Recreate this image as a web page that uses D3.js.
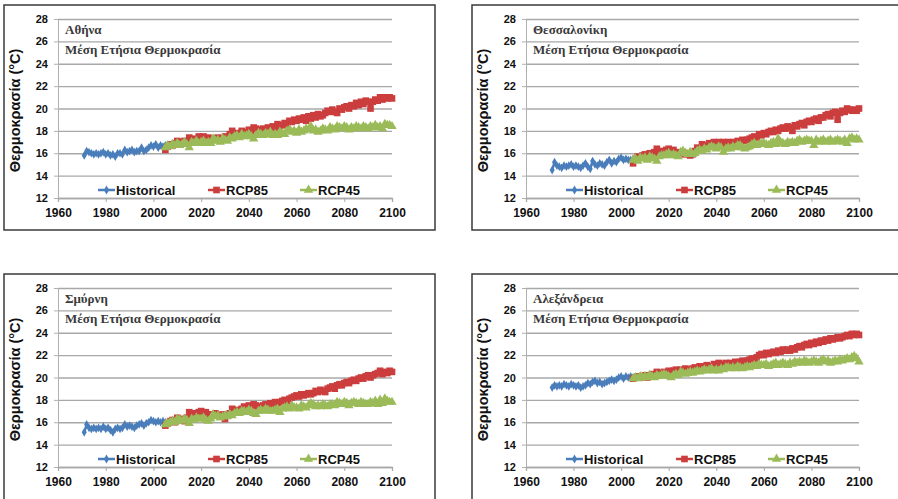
<!DOCTYPE html>
<html>
<head>
<meta charset="utf-8">
<script src="https://cdn.jsdelivr.net/npm/d3@7/dist/d3.min.js"></script>
<style>
  html, body { margin: 0; padding: 0; background: #fff; }
  svg { display: block; }
</style>
</head>
<body>
<svg id="chart" width="898" height="499"></svg>
<script>
// ---------------- DATA ----------------
const cities = ["Αθήνα", "Θεσσαλονίκη", "Σμύρνη", "Αλεξάνδρεια"];
const subtitle = "Μέση Ετήσια Θερμοκρασία";
const yTitle = "Θερμοκρασία (°C)";
const seriesNames = ["Historical", "RCP85", "RCP45"];
const yTicks = [12, 14, 16, 18, 20, 22, 24, 26, 28];
const xTicks = [1960, 1980, 2000, 2020, 2040, 2060, 2080, 2100];
const histYears = d3.range(1971, 2006);
const projYears = d3.range(2005, 2101);

const athensHist = [15.8, 16.2, 16.1, 16.0, 15.9, 16.0, 15.9, 16.0, 16.1, 15.9,
  16.0, 15.8, 15.9, 15.7, 16.0, 16.0, 15.9, 16.3, 16.1, 16.2,
  16.3, 16.1, 16.2, 16.2, 16.5, 16.2, 16.3, 16.5, 16.7, 16.6,
  16.8, 16.5, 16.7, 16.6, 16.7];
const athensRcp85 = [16.3, 16.6, 16.8, 16.7, 16.9, 17.1, 16.8, 17.0, 17.1, 17.0,
  17.4, 17.1, 17.3, 17.2, 17.5, 17.4, 17.5, 17.3, 17.4, 17.2,
  17.3, 17.2, 17.4, 17.2, 17.3, 17.5, 17.3, 17.7, 18.0, 17.6,
  17.8, 17.7, 18.0, 17.9, 17.8, 18.1, 17.9, 18.3, 18.2, 18.1,
  18.0, 18.2, 18.1, 18.3, 18.2, 18.4, 18.3, 18.6, 18.4, 18.5,
  18.7, 18.6, 18.9, 18.8, 19.0, 18.9, 19.1, 19.0, 19.2, 18.9,
  19.3, 19.1, 19.4, 19.2, 19.5, 19.3, 19.4, 19.6, 19.8, 19.7,
  19.9, 19.7, 19.6, 20.0, 19.9, 20.1, 20.2, 20.0, 20.3, 20.2,
  20.5, 20.3, 20.6, 20.4, 20.7, 20.6, 20.0, 20.6, 20.8, 20.7,
  21.0, 20.8, 21.0, 20.9, 21.0, 20.9];
const athensRcp45 = [16.5, 16.7, 16.6, 16.8, 16.7, 16.9, 16.7, 16.8, 17.0, 16.8,
  16.5, 17.0, 16.9, 17.1, 16.9, 17.0, 17.1, 16.9, 17.0, 16.9,
  17.3, 17.1, 17.2, 17.0, 17.3, 17.2, 17.1, 17.4, 17.3, 17.5,
  17.6, 17.4, 17.7, 17.5, 17.6, 17.7, 17.5, 17.3, 17.6, 17.8,
  17.7, 17.6, 17.8, 17.7, 17.9, 17.6, 17.7, 17.6, 17.9, 17.8,
  17.7, 18.0, 18.1, 17.9, 18.0, 17.8, 18.1, 17.9, 18.0, 18.2,
  18.1, 18.4, 18.0, 18.1, 17.9, 18.0, 18.2, 18.1, 18.0, 18.3,
  18.2, 18.1, 18.4, 18.3, 18.2, 18.4, 18.3, 18.1, 18.3, 18.2,
  18.4, 18.3, 18.2, 18.4, 18.3, 18.2, 18.4, 18.3, 18.5, 18.3,
  18.4, 18.2, 18.6, 18.5, 18.5, 18.4];

const thessHist = [14.5, 15.2, 14.9, 14.8, 14.7, 14.9, 14.8, 14.9, 15.0, 14.8,
  14.9, 14.8, 14.7, 14.9, 15.1, 14.8, 14.6, 15.3, 15.0, 14.9,
  15.1, 15.0, 14.9, 15.2, 15.4, 15.1, 15.3, 15.2, 15.5, 15.6,
  15.4, 15.5, 15.4, 15.4, 15.3];
const thessRcp85 = [15.1, 15.5, 15.7, 15.6, 15.8, 15.9, 15.7, 16.0, 15.8, 16.1,
  16.4, 16.0, 16.2, 16.1, 16.3, 16.4, 16.2, 16.3, 16.1, 16.0,
  16.0, 16.1, 15.9, 16.0, 15.8, 15.9, 16.2, 16.5, 16.4, 16.8,
  16.6, 16.7, 16.9, 16.8, 17.0, 16.9, 17.0, 16.8, 17.0, 16.9,
  17.0, 16.9, 17.0, 16.8, 17.1, 17.0, 17.2, 17.1, 17.2, 17.3,
  17.4, 17.5, 17.4, 17.7, 17.6, 17.8, 17.7, 17.9, 18.0, 17.9,
  18.1, 18.0, 18.2, 18.3, 18.2, 18.4, 18.3, 18.0, 18.5, 18.4,
  18.6, 18.7, 18.5, 18.8, 18.9, 18.8, 19.0, 19.1, 18.9, 19.2,
  19.2, 19.4, 19.5, 19.3, 19.6, 19.7, 19.0, 19.6, 19.8, 19.7,
  20.0, 19.9, 19.8, 19.9, 19.8, 20.0];
const thessRcp45 = [15.4, 15.5, 15.3, 15.6, 15.5, 15.6, 15.4, 15.7, 15.6, 15.5,
  15.3, 15.7, 15.8, 15.8, 15.9, 16.0, 15.8, 15.9, 15.8, 15.7,
  16.1, 16.2, 16.0, 15.9, 16.1, 15.9, 16.0, 16.2, 16.3, 16.2,
  16.4, 16.3, 16.5, 16.6, 16.5, 16.4, 16.6, 16.5, 16.1, 16.4,
  16.5, 16.4, 16.6, 16.5, 16.7, 16.7, 16.5, 16.4, 16.5, 16.6,
  16.8, 16.9, 16.7, 16.8, 16.9, 16.9, 16.8, 16.7, 16.9, 17.0,
  16.8, 17.3, 17.0, 16.9, 16.8, 17.0, 16.9, 17.0, 16.9, 17.1,
  17.2, 17.0, 17.1, 17.2, 17.1, 17.1, 16.7, 17.2, 17.0, 17.1,
  17.2, 17.0, 17.1, 17.2, 17.0, 17.1, 17.2, 17.1, 17.0, 17.2,
  16.9, 17.3, 17.4, 17.2, 17.3, 17.2];

const smyrnaHist = [15.1, 15.8, 15.5, 15.4, 15.5, 15.4, 15.5, 15.4, 15.6, 15.4,
  15.5, 15.3, 15.1, 15.4, 15.5, 15.4, 15.5, 15.8, 15.6, 15.7,
  15.6, 15.5, 15.7, 15.8, 15.9, 15.7, 15.9, 16.0, 16.2, 16.1,
  16.0, 16.1, 16.0, 16.1, 16.0];
const smyrnaRcp85 = [15.7, 15.9, 16.1, 16.2, 16.0, 16.4, 16.2, 16.3, 16.1, 16.4,
  16.9, 16.7, 16.8, 16.6, 16.9, 17.0, 16.8, 16.9, 16.7, 16.7,
  16.6, 16.8, 16.6, 16.5, 16.7, 16.3, 16.6, 16.8, 17.2, 17.0,
  17.1, 17.0, 17.2, 17.4, 17.3, 17.5, 17.4, 17.6, 17.5, 17.4,
  17.3, 17.5, 17.6, 17.5, 17.7, 17.6, 17.8, 17.7, 17.8, 17.9,
  18.0, 17.9, 18.1, 18.2, 18.3, 18.4, 18.3, 18.5, 18.4, 18.5,
  18.6, 18.5, 18.6, 18.8, 18.7, 18.9, 18.8, 18.7, 19.0, 19.1,
  19.2, 19.0, 19.3, 19.4, 19.3, 19.5, 19.6, 19.5, 19.7, 19.8,
  19.7, 19.9, 20.0, 19.9, 20.1, 20.2, 20.0, 20.2, 20.3, 20.4,
  20.6, 20.3, 20.5, 20.4, 20.6, 20.5];
const smyrnaRcp45 = [15.8, 15.9, 16.0, 16.1, 16.0, 16.3, 16.2, 16.1, 16.3, 16.2,
  15.9, 16.3, 16.2, 16.4, 16.3, 16.3, 16.4, 16.2, 16.1, 16.3,
  16.7, 16.5, 16.6, 16.4, 16.5, 16.6, 16.5, 16.7, 16.6, 16.8,
  16.9, 16.8, 17.0, 17.0, 16.9, 17.1, 17.0, 16.8, 16.7, 17.0,
  17.1, 17.0, 17.2, 17.1, 17.0, 17.0, 17.1, 17.2, 16.9, 17.2,
  17.3, 17.4, 17.2, 17.5, 17.3, 17.3, 17.2, 17.5, 17.4, 17.3,
  17.5, 17.7, 17.6, 17.4, 17.5, 17.4, 17.6, 17.5, 17.4, 17.6,
  17.6, 17.5, 17.8, 17.7, 17.6, 17.8, 17.7, 17.5, 17.7, 17.8,
  17.7, 17.6, 17.8, 17.7, 17.6, 17.6, 17.8, 17.7, 17.9, 17.6,
  18.0, 17.7, 18.1, 17.9, 17.8, 17.8];

const alexHist = [19.1, 19.3, 19.2, 19.3, 19.2, 19.4, 19.3, 19.2, 19.4, 19.3,
  19.2, 19.3, 19.1, 19.2, 19.3, 19.5, 19.4, 19.6, 19.7, 19.5,
  19.6, 19.4, 19.5, 19.6, 19.7, 19.8, 19.7, 19.8, 20.0, 20.1,
  19.9, 20.1, 20.0, 20.1, 20.0];
const alexRcp85 = [19.9, 20.0, 20.1, 20.0, 20.1, 20.2, 20.0, 20.2, 20.3, 20.1,
  20.5, 20.4, 20.3, 20.5, 20.4, 20.6, 20.5, 20.6, 20.7, 20.6,
  20.7, 20.6, 20.8, 20.7, 20.6, 20.8, 20.9, 20.8, 21.0, 20.9,
  21.0, 21.1, 20.9, 21.0, 21.2, 21.1, 21.3, 21.2, 21.1, 21.3,
  21.2, 21.3, 21.2, 21.4, 21.3, 21.4, 21.5, 21.4, 21.5, 21.6,
  21.7, 21.6, 21.8, 22.0, 22.1, 22.0, 22.2, 22.1, 22.2, 22.3,
  22.2, 22.4, 22.3, 22.5, 22.4, 22.5, 22.4, 22.6, 22.5, 22.7,
  22.8, 22.7, 22.9, 23.0, 22.9, 23.1, 23.0, 23.2, 23.1, 23.3,
  23.2, 23.4, 23.3, 23.5, 23.4, 23.5, 23.6, 23.5, 23.6, 23.7,
  23.8, 23.7, 23.9, 23.8, 23.9, 23.8];
const alexRcp45 = [19.9, 20.0, 19.9, 20.1, 20.0, 20.1, 20.0, 20.2, 20.1, 20.0,
  20.2, 20.1, 20.2, 20.3, 20.2, 20.1, 20.0, 20.2, 20.3, 20.2,
  20.5, 20.4, 20.3, 20.4, 20.5, 20.4, 20.5, 20.6, 20.5, 20.6,
  20.7, 20.6, 20.7, 20.8, 20.6, 20.7, 20.6, 20.8, 20.7, 20.9,
  20.9, 20.8, 20.9, 20.8, 21.0, 20.9, 20.8, 20.9, 21.0, 20.9,
  21.0, 21.1, 21.0, 21.2, 21.1, 21.1, 21.2, 21.0, 21.1, 21.2,
  21.3, 21.1, 21.2, 21.3, 21.2, 21.1, 21.3, 21.2, 21.4, 21.3,
  21.4, 21.3, 21.5, 21.4, 21.3, 21.4, 21.5, 21.4, 21.3, 21.5,
  21.6, 21.4, 21.5, 21.3, 21.4, 21.5, 21.4, 21.6, 21.5, 21.6,
  21.7, 21.6, 21.8, 21.9, 21.7, 21.4];

const histSeries = [athensHist, thessHist, smyrnaHist, alexHist];
const rcp85Series = [athensRcp85, thessRcp85, smyrnaRcp85, alexRcp85];
const rcp45Series = [athensRcp45, thessRcp45, smyrnaRcp45, alexRcp45];

// ---------------- LAYOUT / STYLE ----------------
const colors = ["#4a7ebb", "#cc3d3d", "#9bbb59"];
const panels = [
  { box: [4, 5, 431, 225],  plot: [58, 19, 334, 179] },
  { box: [472, 5, 440, 225], plot: [526, 19, 333, 179] },
  { box: [4, 274, 431, 240], plot: [58, 288, 334, 179] },
  { box: [472, 274, 440, 240], plot: [526, 288, 333, 179] }
];

const svg = d3.select("#chart");

panels.forEach((p, i) => {
  const [bx, by, bw, bh] = p.box;
  svg.append("rect")
    .attr("x", bx).attr("y", by).attr("width", bw).attr("height", bh)
    .attr("fill", "#fff").attr("stroke", "#3a3a3a").attr("stroke-width", 1.5);

  const [px, py, pw, ph] = p.plot;
  const x = d3.scaleLinear().domain([1960, 2100]).range([px, px + pw]);
  const y = d3.scaleLinear().domain([12, 28]).range([py + ph, py]);
  const g = svg.append("g");

  // gridlines
  g.append("g")
    .attr("transform", `translate(${px},0)`)
    .call(d3.axisLeft(y).tickValues(yTicks).tickSize(-pw).tickFormat(""))
    .call(s => s.select(".domain").remove())
    .call(s => s.selectAll(".tick line").attr("stroke", "#a8a8a8").attr("stroke-width", 1.3));

  // y axis
  const ya = g.append("g")
    .attr("transform", `translate(${px},0)`)
    .call(d3.axisLeft(y).tickValues(yTicks).tickSize(4).tickPadding(6));
  ya.select(".domain").attr("stroke", "#b0b0b0");
  ya.selectAll(".tick line").attr("stroke", "#b0b0b0");
  ya.selectAll(".tick text").attr("font-family", "Liberation Sans, Arial, sans-serif")
    .attr("font-weight", "bold").attr("font-size", 11).attr("fill", "#111");

  // x axis
  const xa = g.append("g")
    .attr("transform", `translate(0,${py + ph})`)
    .call(d3.axisBottom(x).tickValues(xTicks).tickFormat(d3.format("d")).tickSize(4).tickPadding(6));
  xa.select(".domain").attr("stroke", "#a8a8a8").attr("stroke-width", 1.3);
  xa.selectAll(".tick line").attr("stroke", "#a8a8a8");
  xa.selectAll(".tick text").attr("font-family", "Liberation Sans, Arial, sans-serif")
    .attr("font-weight", "bold").attr("font-size", 12).attr("fill", "#111");

  // y title
  g.append("text")
    .attr("transform", `translate(${px - 38},${py + ph / 2 + 2}) rotate(-90)`)
    .attr("text-anchor", "middle")
    .attr("font-family", "Liberation Sans, Arial, sans-serif")
    .attr("font-weight", "bold").attr("font-size", 14.5).attr("fill", "#111")
    .text(yTitle);

  // titles
  g.append("text").attr("x", px + 7).attr("y", py + 15)
    .attr("font-family", "Liberation Serif, Times New Roman, serif")
    .attr("font-weight", "bold").attr("font-size", 13).attr("fill", "#3a3a3a")
    .text(cities[i]);
  g.append("text").attr("x", px + 7).attr("y", py + 35)
    .attr("font-family", "Liberation Serif, Times New Roman, serif")
    .attr("font-weight", "bold").attr("font-size", 13).attr("fill", "#3a3a3a")
    .text(subtitle);

  // series
  const line = d3.line().x(d => x(d[0])).y(d => y(d[1]));
  const sets = [
    { data: histYears.map((yr, k) => [yr, histSeries[i][k]]), sym: d3.symbolDiamond, size: 22 },
    { data: projYears.map((yr, k) => [yr, rcp85Series[i][k]]), sym: d3.symbolSquare, size: 44 },
    { data: projYears.map((yr, k) => [yr, rcp45Series[i][k]]), sym: d3.symbolTriangle, size: 38 }
  ];
  sets.forEach((s, si) => {
    g.append("path").datum(s.data).attr("d", line)
      .attr("fill", "none").attr("stroke", colors[si]).attr("stroke-width", 2.5);
    g.append("g").selectAll("path").data(s.data).join("path")
      .attr("transform", d => `translate(${x(d[0])},${y(d[1])})`)
      .attr("d", d3.symbol(s.sym, s.size))
      .attr("fill", colors[si]);
  });

  // legend
  const legX = [px + 40, px + 150, px + 242];
  const legY = py + ph - 8;
  const legSyms = [[d3.symbolDiamond, 24], [d3.symbolSquare, 44], [d3.symbolTriangle, 38]];
  seriesNames.forEach((name, si) => {
    const lg = g.append("g").attr("transform", `translate(${legX[si]},${legY})`);
    lg.append("line").attr("x1", 0).attr("x2", 17).attr("y1", 0).attr("y2", 0)
      .attr("stroke", colors[si]).attr("stroke-width", 2.5);
    lg.append("path").attr("transform", "translate(8.5,0)")
      .attr("d", d3.symbol(legSyms[si][0], legSyms[si][1])).attr("fill", colors[si]);
    lg.append("text").attr("x", 18).attr("y", 4.5)
      .attr("font-family", "Liberation Sans, Arial, sans-serif")
      .attr("font-weight", "bold").attr("font-size", 13).attr("fill", "#111")
      .text(name);
  });
});
</script>
</body>
</html>
